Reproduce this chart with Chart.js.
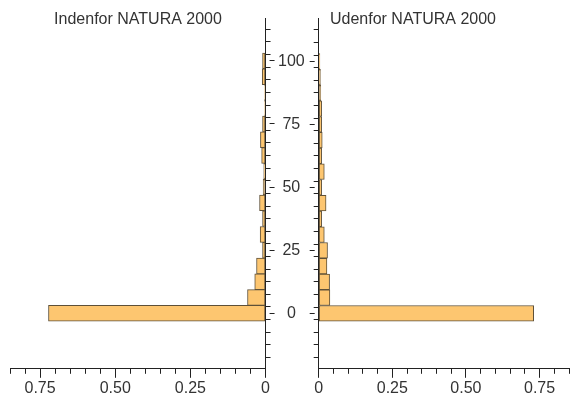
<!DOCTYPE html>
<html>
<head>
<meta charset="utf-8">
<script src="https://cdn.jsdelivr.net/npm/chart.js@4"></script>
<style>
body { margin: 0; background: #fff; overflow: hidden; }
#wrap { position: relative; width: 574px; height: 398px; overflow: hidden; }
#leftChart { position: absolute; left: 0; top: 0; }
#rightChart { position: absolute; left: 269px; top: 0; }
</style>
</head>
<body>
<div id="wrap">
<canvas id="leftChart" width="275" height="398"></canvas>
<canvas id="rightChart" width="305" height="398"></canvas>
</div>
<script>
// Histogram bins (centre of each class on the vertical axis)
var bins = [0, 6.25, 12.5, 18.75, 25, 31.25, 37.5, 43.75, 50, 56.25, 62.5, 68.75, 75, 81.25, 87.5, 93.75, 100];

var indenfor = [0.722, 0.06, 0.036, 0.03, 0.01, 0.018, 0.01, 0.02, 0.008, 0.006, 0.013, 0.017, 0.01, 0.003, 0.003, 0.011, 0.01];
var udenfor = [0.73, 0.038, 0.037, 0.028, 0.03, 0.019, 0.01, 0.025, 0.01, 0.019, 0.01, 0.012, 0.01, 0.01, 0.007, 0.006, 0.004];

var titles = ['Indenfor NATURA 2000', 'Udenfor NATURA 2000'];
var xMajor = [0, 0.25, 0.5, 0.75];
var yMajor = [0, 25, 50, 75, 100];

var FILL = '#fdc670';
var EDGE = '#5e5038';
var AXIS = '#222';
var TEXT = '#333';

Chart.defaults.font.family = '"Liberation Sans", Arial, sans-serif';
Chart.defaults.font.size = 16;
Chart.defaults.color = TEXT;

function toPoints(values) {
    return values.map(function (v, i) { return { x: v, y: bins[i] }; });
}

function isIn(list, v) {
    return list.some(function (m) { return Math.abs(m - v) < 1e-6; });
}

function xLabel(v) {
    if (!isIn(xMajor, v)) return '';
    return Math.abs(v) < 1e-9 ? '0' : v.toFixed(2);
}

function yLabel(v) {
    return isIn(yMajor, v) ? String(Math.round(v)) : '';
}

// bars fill the whole class width
function binThickness(ctx) {
    var s = ctx.chart.scales.y;
    return Math.abs(s.getPixelForValue(bins[1]) - s.getPixelForValue(bins[0]));
}

// title placed at a fixed spot next to the axis top
var panelTitle = {
    id: 'panelTitle',
    afterDraw: function (chart, args, opts) {
        var ctx = chart.ctx;
        ctx.save();
        ctx.font = '16px "Liberation Sans", Arial, sans-serif';
        ctx.fillStyle = TEXT;
        ctx.textAlign = 'center';
        ctx.textBaseline = 'middle';
        ctx.fillText(opts.text, opts.x, opts.y);
        ctx.restore();
    }
};

// longer tick marks at the labelled values
var majorTicks = {
    id: 'majorTicks',
    afterDraw: function (chart) {
        var ctx = chart.ctx;
        ctx.save();
        ctx.strokeStyle = AXIS;
        ctx.lineWidth = 1;
        Object.values(chart.scales).forEach(function (scale) {
            var list = scale.axis === 'x' ? xMajor : yMajor;
            scale.ticks.forEach(function (t) {
                if (!isIn(list, t.value)) return;
                var p = Math.round(scale.getPixelForValue(t.value) - 0.5) + 0.5;
                ctx.beginPath();
                if (scale.axis === 'x') {
                    ctx.moveTo(p, scale.top + 4); ctx.lineTo(p, scale.top + 9);
                } else if (scale.position === 'left') {
                    ctx.moveTo(scale.right - 4, p); ctx.lineTo(scale.right - 9, p);
                } else {
                    ctx.moveTo(scale.left + 4, p); ctx.lineTo(scale.left + 9, p);
                }
                ctx.stroke();
            });
        });
        ctx.restore();
    }
};

function makeChart(id, values, opts) {
    return new Chart(document.getElementById(id), {
        type: 'bar',
        data: {
            datasets: [{
                data: toPoints(values),
                backgroundColor: FILL,
                borderColor: EDGE,
                borderWidth: 1,
                borderSkipped: false,
                barThickness: binThickness
            }]
        },
        options: {
            indexAxis: 'y',
            responsive: false,
            animation: false,
            layout: { padding: opts.padding, autoPadding: false },
            plugins: {
                legend: { display: false },
                tooltip: { enabled: false },
                panelTitle: opts.title
            },
            scales: {
                x: {
                    type: 'linear',
                    reverse: opts.reverse,
                    min: 0,
                    max: 0.85,
                    ticks: { stepSize: 0.05, callback: xLabel, autoSkip: false, maxRotation: 0, minRotation: 0, padding: 5 },
                    grid: { drawOnChartArea: false, tickLength: 5, color: AXIS },
                    border: { color: AXIS }
                },
                y: {
                    type: 'linear',
                    position: opts.yPos,
                    offset: false,
                    min: -22,
                    max: 117,
                    ticks: { stepSize: 5, includeBounds: false, display: opts.yLabels, callback: yLabel, autoSkip: false, padding: 9, crossAlign: 'center' },
                    grid: { drawOnChartArea: false, tickLength: 5, color: AXIS },
                    border: { color: AXIS }
                }
            }
        },
        plugins: [panelTitle, majorTicks]
    });
}

var leftChart = makeChart('leftChart', indenfor, {
    reverse: true,
    yPos: 'right',
    yLabels: false,
    padding: { top: 18, left: 10, right: 4, bottom: -5 },
    title: { text: titles[0], x: 138, y: 20 }
});

var rightChart = makeChart('rightChart', udenfor, {
    reverse: false,
    yPos: 'left',
    yLabels: true,
    padding: { top: 18, left: 0, right: -1, bottom: -5 },
    title: { text: titles[1], x: 144, y: 20 }
});
</script>
</body>
</html>
